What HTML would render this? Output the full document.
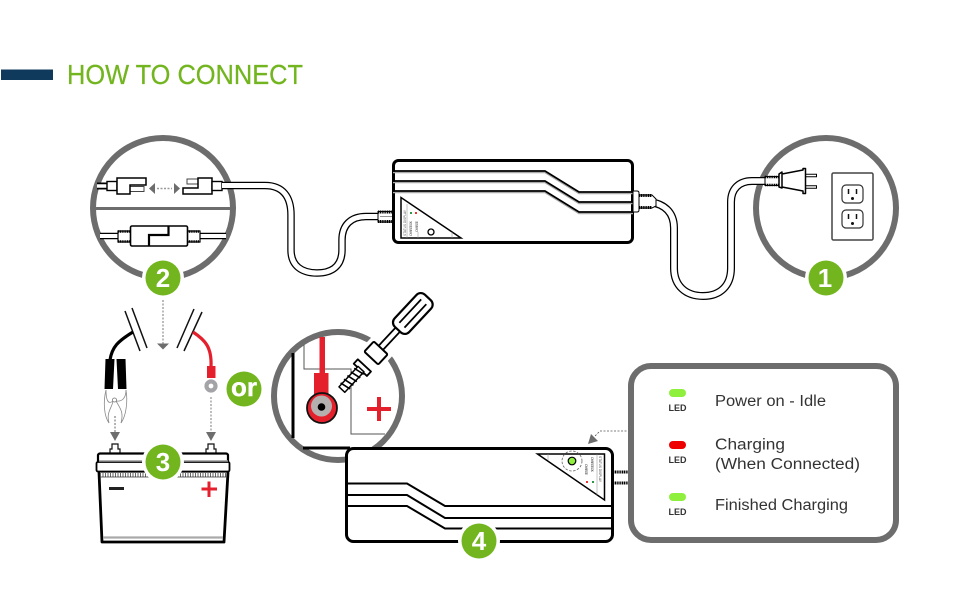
<!DOCTYPE html>
<html><head><meta charset="utf-8"><style>html,body{margin:0;padding:0;background:#fff}svg{display:block}text{font-family:"Liberation Sans",sans-serif}</style></head><body>
<svg width="970" height="600" viewBox="0 0 970 600" xmlns="http://www.w3.org/2000/svg">
<rect width="970" height="600" fill="#fff"/>
<!-- title -->
<rect x="1" y="69.500" width="52" height="10.500" fill="#0f3a5c"/>
<text x="67" y="84" font-size="27.500" fill="#72b51f" stroke="#72b51f" stroke-width=".25" textLength="236" lengthAdjust="spacingAndGlyphs">HOW TO CONNECT</text>

<!-- circle 2 -->
<circle cx="163" cy="208" r="70" fill="#fff" stroke="#6d6d6d" stroke-width="6"/>
<line x1="95" y1="208.500" x2="232" y2="208.500" stroke="#6d6d6d" stroke-width="3"/>
<!-- top connectors -->
<path d="M97 186H108" stroke="#000" stroke-width="7"/><path d="M97 186H108" stroke="#fff" stroke-width="3.500"/>
<rect x="107" y="181.500" width="10" height="9" fill="#fff" stroke="#000" stroke-width="1.400"/>
<path d="M130 186.500H144V191.500H130" fill="#fff" stroke="#444"/>
<path d="M117 178H146V185H130V194H117Z" fill="#fff" stroke="#000" stroke-width="1.500"/>
<path d="M198 179H187V184H198" fill="#fff" stroke="#444"/>
<path d="M183 194V188H198V178H212V194Z" fill="#fff" stroke="#000" stroke-width="1.500"/>
<rect x="212" y="181.500" width="10" height="9" fill="#fff" stroke="#000" stroke-width="1.400"/>
<polygon points="149,188.500 155,183 155,194" fill="#6d6d6d"/><polygon points="180,188.500 174,183 174,194" fill="#6d6d6d"/>
<line x1="157" y1="188.500" x2="172" y2="188.500" stroke="#999" stroke-width="1.500" stroke-dasharray="2 1.500"/>
<!-- lower connector -->
<path d="M100 236H120M198 236H226" stroke="#000" stroke-width="6.500"/><path d="M100 236H120M198 236H226" stroke="#fff" stroke-width="4"/>
<rect x="118" y="231" width="13" height="11" fill="#fff" stroke="#000" stroke-width="1.200"/>
<rect x="187" y="231" width="13" height="11" fill="#fff" stroke="#000" stroke-width="1.200"/>
<path d="M118 231.500H131M118 241.500H131M187 231.500H200M187 241.500H200" stroke="#000" stroke-width="2.500" stroke-dasharray="1.200 .6"/>
<rect x="130.500" y="226" width="57" height="20" rx="1.500" fill="#fff" stroke="#000" stroke-width="1.600"/>
<path d="M168.500 226V235H149V246" fill="none" stroke="#000" stroke-width="2.200"/>
<!-- cable left -->
<path d="M222 185.500H265C283 185.500 291 197 291 215V250C291 266 302 273 317 273C332 273 342 266 342 250V240C342 225 351 216.500 366 216.500H380" fill="none" stroke="#000" stroke-width="7.500"/>
<path d="M222 185.500H265C283 185.500 291 197 291 215V250C291 266 302 273 317 273C332 273 342 266 342 250V240C342 225 351 216.500 366 216.500H380" fill="none" stroke="#fff" stroke-width="5"/>
<!-- cable right -->
<circle cx="826" cy="208" r="70" fill="#fff" stroke="#6d6d6d" stroke-width="6"/>
<path d="M650 202C664 204 674 212 674 228V268C674 286 686 296 703 296C720 296 731 286 731 268V202C731 189 739 181 752 181H768" fill="none" stroke="#000" stroke-width="8"/>
<path d="M650 202C664 204 674 212 674 228V268C674 286 686 296 703 296C720 296 731 286 731 268V202C731 189 739 181 752 181H768" fill="none" stroke="#fff" stroke-width="5.500"/>
<!-- plug -->
<rect x="765" y="176.500" width="14" height="9" fill="#fff" stroke="#000" stroke-width="1"/>
<path d="M765 177H779M765 185H779" stroke="#000" stroke-width="2.500" stroke-dasharray="1.200 .6"/>
<path d="M805 175.500H817M805 187H817" stroke="#000" stroke-width="3.500"/>
<path d="M805 175.500H816M805 187H816" stroke="#fff" stroke-width="1.500"/>
<path d="M779 174V187L782 188V172Z M782 174L803 170V168.500H805.500V193.500H803V191L782 187Z" fill="#fff" stroke="#000" stroke-width="1.500" stroke-linejoin="round"/>
<!-- outlet -->
<rect x="832" y="173" width="41" height="67" rx="1.500" fill="#fff" stroke="#444" stroke-width="1.500"/>
<g fill="#fff" stroke="#333" stroke-width="1.200"><rect x="842" y="185" width="21" height="18" rx="4"/><rect x="842" y="210" width="21" height="18" rx="4"/></g>
<path d="M848.500 189V194M856.500 189V194M848.500 214V219M856.500 214V219" stroke="#111" stroke-width="1.500"/>
<circle cx="852.500" cy="198.500" r="1.500" fill="#111"/><circle cx="852.500" cy="223.500" r="1.500" fill="#111"/>

<!-- charger 1 -->
<path d="M378 211.500H393V222H378Z" fill="#fff" stroke="#000"/>
<path d="M378 212H392M378 221.500H392" stroke="#000" stroke-width="3" stroke-dasharray="1.200 .6"/>
<path d="M380 216.500H392" stroke="#777" stroke-width=".8"/>
<rect x="393.500" y="160.500" width="239" height="82" rx="5" fill="#fff" stroke="#000" stroke-width="3"/>
<g fill="none" stroke="#aaa" stroke-width="1.500"><path d="M393 172.500H545L579 193.500H633M393 182.500H545L579 203.500H633M393 192.500H545L579 213.500H633"/></g>
<g fill="none" stroke="#000" stroke-width="1.700"><path d="M393 171H545L579 192H633M393 181H545L579 202H633M393 191H545L579 212H633"/></g>
<path d="M633 191H637Q639 191 639 193V210Q639 212 637 212H633Z" fill="#fff" stroke="#000" stroke-width="1"/>
<path d="M639 195H652L656 199V206L652 208H639Z" fill="#fff" stroke="#000" stroke-width="1"/>
<path d="M639 195.500H652M639 207.500H652" stroke="#000" stroke-width="3" stroke-dasharray="1.200 .6"/>
<polygon points="401,197.500 401,238 461,238" fill="#fff" stroke="#000" stroke-width="1.500"/>
<path d="M407 204V238M418 232V238M452 232V238" stroke="#888" stroke-width=".5"/>
<circle cx="431" cy="232" r="3" fill="#fff" stroke="#000" stroke-width="1.300"/>
<g font-size="3.400" fill="#555">
<text transform="translate(406 236) rotate(-90)" textLength="26" lengthAdjust="spacingAndGlyphs">STATUS DISPLAY</text>
<text transform="translate(412 236) rotate(-90)" textLength="15">CHARGE OK</text>
<text transform="translate(418 232) rotate(-90)" textLength="11">CHARGE</text></g>
<rect x="410" y="212" width="2" height="2" fill="#2a9a4a"/><rect x="415" y="212" width="2" height="2" fill="#e33"/>

<!-- badges 1,2 -->
<circle cx="163" cy="278" r="21" fill="#fff"/><circle cx="826" cy="278" r="21" fill="#fff"/>
<circle cx="163" cy="278" r="17.500" fill="#72b51f"/><circle cx="826" cy="278" r="17.500" fill="#72b51f"/>
<g font-size="26" font-weight="bold" fill="#fff" text-anchor="middle"><text x="163" y="287">2</text><text x="825" y="287">1</text></g>

<!-- drop lines -->
<line x1="163" y1="300" x2="163" y2="344" stroke="#777" stroke-dasharray="2 1.500"/>
<polygon points="157,343.500 169,343.500 163,349.500" fill="#6d6d6d"/>
<g stroke="#111" stroke-width="1.500"><path d="M125 311L140 351M132 308L147 348M194 309L177 348M202 312L184 351"/></g>
<path d="M133 332C118 341 112 347 110 360" fill="none" stroke="#000" stroke-width="3.200"/>
<path d="M193 332C205 340 212 347 211 367" fill="none" stroke="#e3202c" stroke-width="3.200"/>
<!-- clamp -->
<polygon points="105.500,359 114.500,359 113,389 104.500,389" fill="#000"/><polygon points="116.500,359 125.500,359 126.500,389 118,389" fill="#000"/>
<path d="M106 390C106 400 108 405 113 401C112 408 106 412 109 423M126 390C126 398 122 402 116 401C120 408 124 412 121 423" fill="none" stroke="#888" stroke-width=".8"/>
<path d="M106 390C103 402 104 416 109 423M126 390C128 402 126 416 121 423" fill="none" stroke="#888" stroke-width=".8"/>
<circle cx="114.500" cy="400" r="2" fill="#fff" stroke="#777" stroke-width=".8"/>
<line x1="115" y1="416" x2="115" y2="432" stroke="#666" stroke-dasharray="2 1.500"/>
<polygon points="110,432 120,432 115,441" fill="#6d6d6d"/>
<!-- ring terminal -->
<rect x="207" y="366" width="8.500" height="12" fill="#e3202c"/>
<circle cx="211" cy="386" r="4.500" fill="#fff" stroke="#a3a3a8" stroke-width="4.200"/>
<line x1="211" y1="397" x2="211" y2="432" stroke="#999" stroke-width="1.300" stroke-dasharray="2 1.500"/>
<polygon points="206,432 216,432 211,441" fill="#6d6d6d"/>
<!-- or -->
<circle cx="244" cy="389" r="17.500" fill="#72b51f"/>
<text x="244" y="396" font-size="26" font-weight="bold" fill="#fff" stroke="#fff" stroke-width=".4" text-anchor="middle">or</text>

<!-- battery -->
<g fill="#fff" stroke="#111">
<path d="M110 453V449H112V444H118V449H120V453" stroke-width="1.200"/><path d="M206 453V449H208V444H214V449H216V453" stroke-width="1.200"/></g>
<path d="M99 472L102 542H224L228 472" fill="#fff" stroke="#000" stroke-width="2.800" stroke-linejoin="round"/>
<path d="M103 537.500H223" stroke="#aaa" stroke-width="2.200"/>
<rect x="98" y="453.500" width="130" height="18" rx="2" fill="#fff" stroke="#000" stroke-width="2.200"/>
<rect x="96.500" y="462" width="133" height="9.500" rx="1.500" fill="#fff" stroke="#000" stroke-width="1.800"/>
<path d="M99 461H228" stroke="#999" stroke-width="1.500"/>
<line x1="100" y1="474.500" x2="226" y2="474.500" stroke="#666" stroke-width="5" stroke-dasharray="1 1.500"/>
<path d="M100 477H226" stroke="#333" stroke-width=".8"/>
<rect x="109" y="487" width="15" height="3" fill="#222"/>
<path d="M201.500 489H217M209 481.500V497" stroke="#e3202c" stroke-width="3"/>
<circle cx="163" cy="462" r="21" fill="#fff"/><circle cx="163" cy="462" r="17.500" fill="#72b51f"/>
<text x="163" y="471" font-size="26" font-weight="bold" fill="#fff" text-anchor="middle">3</text>

<!-- circle detail -->
<circle cx="338" cy="396" r="64" fill="#fff" stroke="#6d6d6d" stroke-width="6"/>
<path d="M304 345V369H351V434H385" fill="none" stroke="#555" stroke-width="1"/>
<path d="M293 353V438" stroke="#000" stroke-width="3"/>
<rect x="319.500" y="337" width="5.500" height="37" fill="#e3202c"/>
<rect x="314" y="373" width="14.500" height="24" fill="#e3202c"/>
<circle cx="322" cy="408" r="15" fill="#e3202c" stroke="#111" stroke-width="1.800"/>
<circle cx="321.500" cy="406" r="10.500" fill="#b5b0b0"/>
<circle cx="321.500" cy="407" r="3.800" fill="#000"/>
<path d="M367 409H391M379 397V421" stroke="#e3202c" stroke-width="4"/>
<!-- screwdriver -->
<g transform="translate(376 353) rotate(-47)" stroke-linejoin="round">
<rect x="-10" y="-14" width="20" height="28" fill="#fff"/>
<rect x="6" y="-3" width="27" height="6" fill="#fff" stroke="#000" stroke-width="1.800"/>
<rect x="-7" y="-9.500" width="14" height="19" rx="1.500" fill="#fff" stroke="#000" stroke-width="2"/>
<rect x="32" y="-10" width="44" height="20" rx="6" fill="#fff" stroke="#000" stroke-width="2.200"/>
<path d="M38 -3.500H70M38 3.500H70" stroke="#000" stroke-width="1.800"/>
<rect x="-26" y="-14" width="14" height="28" fill="#fff"/>
<rect x="-23" y="-9" width="6" height="18" fill="#fff" stroke="#000" stroke-width="1.800"/>
<rect x="-50" y="-4" width="28" height="8" fill="#fff" stroke="#000" stroke-width="1.500"/>
<path d="M-46 -5.500L-44 5.500M-41 -5.500L-39 5.500M-36 -5.500L-34 5.500M-31 -5.500L-29 5.500M-26 -5.500L-24 5.500" stroke="#000" stroke-width="1.600"/>
</g>
<path d="M303 448H350" stroke="#000" stroke-width="3"/>

<!-- dashed pointer -->
<path d="M630 431H600L594 437" fill="none" stroke="#555" stroke-width=".8" stroke-dasharray="2 1.500"/>
<polygon points="588,444 591,434 598,441" fill="#6d6d6d"/>
<!-- charger 4 -->
<path d="M613 472H632M613 483H632" stroke="#000" stroke-width="3" stroke-dasharray="1.200 .6"/>
<rect x="346.500" y="448.500" width="266" height="93" rx="7" fill="#fff" stroke="#000" stroke-width="3"/>
<g fill="none" stroke="#000" stroke-width="2"><path d="M346 483.500H407L445 506H613M346 495H407L445 518H613M346 506H407L445 528.500H613"/></g>
<polygon points="537.500,454 604.500,454 604.500,500" fill="#fff" stroke="#000" stroke-width="1.500"/>
<path d="M548 454V460M597 454V495" stroke="#888" stroke-width=".5"/>
<circle cx="572" cy="461" r="10" fill="none" stroke="#666" stroke-width=".8" stroke-dasharray="2.500 1.500"/>
<circle cx="572" cy="461" r="3.800" fill="#8ef03c" stroke="#000" stroke-width="1.200"/>
<g font-size="3.400" fill="#444">
<text transform="translate(599 456) rotate(90)" textLength="26" lengthAdjust="spacingAndGlyphs">STATUS DISPLAY</text>
<text transform="translate(591 457) rotate(90)" textLength="15">CHARGE OK</text>
<text transform="translate(585 464) rotate(90)" textLength="11">CHARGE</text></g>
<rect x="592" y="481" width="2" height="2" fill="#2a9a4a"/><rect x="586" y="481" width="2" height="2" fill="#e33"/>
<circle cx="479" cy="541" r="21" fill="#fff"/><circle cx="479" cy="541" r="17.500" fill="#72b51f"/>
<text x="479" y="550" font-size="26" font-weight="bold" fill="#fff" text-anchor="middle">4</text>

<!-- panel -->
<rect x="631" y="366" width="265" height="174" rx="20" fill="#fff" stroke="#6d6d6d" stroke-width="6"/>
<rect x="669" y="389" width="17" height="8" rx="4" fill="#8ef03c"/>
<rect x="669" y="441" width="17" height="8" rx="4" fill="#ee0000"/>
<rect x="669" y="493" width="17" height="8" rx="4" fill="#8ef03c"/>
<g font-size="9" font-weight="bold" fill="#333" text-anchor="middle"><text x="677.500" y="411">LED</text><text x="677.500" y="463">LED</text><text x="677.500" y="515">LED</text></g>
<g font-size="15.500" fill="#333">
<text x="715" y="406" textLength="111" lengthAdjust="spacingAndGlyphs">Power on - Idle</text>
<text x="715" y="449.500" textLength="70" lengthAdjust="spacingAndGlyphs">Charging</text>
<text x="715" y="469" textLength="145" lengthAdjust="spacingAndGlyphs">(When Connected)</text>
<text x="715" y="510" textLength="133" lengthAdjust="spacingAndGlyphs">Finished Charging</text></g>
</svg>
</body></html>
